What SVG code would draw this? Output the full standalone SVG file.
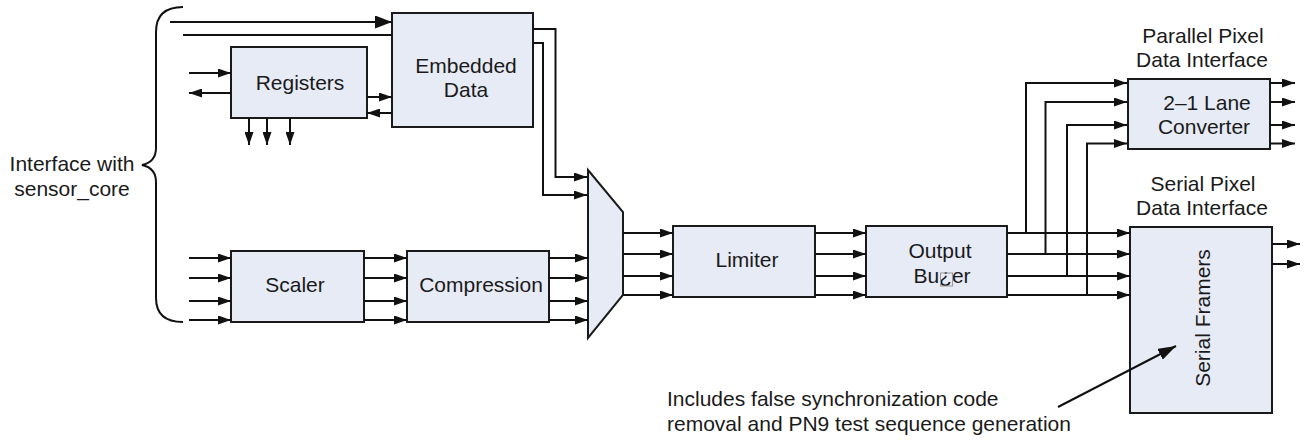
<svg xmlns="http://www.w3.org/2000/svg" width="1305" height="440" viewBox="0 0 1305 440">
<style>
.box{fill:#e7ebf6;stroke:#1a1a1a;stroke-width:2}
.ln{fill:none;stroke:#111;stroke-width:2}
.a{marker-end:url(#ah)}
.t{font-family:"Liberation Sans",Arial,sans-serif;font-size:21px;fill:#1a1a1a;text-anchor:middle}
</style>
<defs>
<marker id="ah" markerUnits="userSpaceOnUse" markerWidth="13" markerHeight="9" refX="13" refY="4.5" orient="auto"><path d="M0,0 L13,4.5 L0,9 z" fill="#111"/></marker>
<marker id="ahb" markerUnits="userSpaceOnUse" markerWidth="17" markerHeight="13" refX="17" refY="6.5" orient="auto"><path d="M0,0 L17,6.5 L0,13 z" fill="#111"/></marker>
<marker id="ahn" markerUnits="userSpaceOnUse" markerWidth="18" markerHeight="12" refX="18" refY="6" orient="auto"><path d="M0,0 L18,6 L0,12 z" fill="#111"/></marker>
</defs>
<rect width="1305" height="440" fill="#fff"/>

<g id="interface">
<path class="ln" d="M183,7 C166,7 156,14 156,32 L156,148 C156,158 151,163 142,165 C151,167 156,172 156,182 L156,298 C156,315 166,322 183,322"/>
<text class="t" x="72" y="171">Interface with</text>
<text class="t" x="72" y="196">sensor_core</text>
</g>

<g id="registers">
<rect class="box" x="231" y="47" width="136" height="71"/>
<text class="t" x="300" y="90">Registers</text>
</g>
<g id="embedded-data">
<rect class="box" x="392" y="13" width="141" height="114"/>
<text class="t" x="466" y="73">Embedded</text>
<text class="t" x="466" y="97">Data</text>
</g>
<g id="scaler">
<rect class="box" x="231" y="251" width="133" height="71"/>
<text class="t" x="295" y="292">Scaler</text>
</g>
<g id="compression">
<rect class="box" x="407" y="251" width="142" height="71"/>
<text class="t" x="481" y="292">Compression</text>
</g>
<g id="mux">
<polygon class="box" points="588,170 623,212 623,295 588,338"/>
</g>
<g id="limiter">
<rect class="box" x="673" y="226" width="142" height="71"/>
<text class="t" x="747" y="267">Limiter</text>
</g>
<g id="output-buffer">
<rect class="box" x="866" y="226" width="141" height="71"/>
<text class="t" x="940" y="258">Output</text>
<text class="t" x="942" y="283">Bu¿er</text>
<rect x="940.5" y="273" width="12" height="13" fill="none" stroke="#999" stroke-width="1"/>
</g>
<g id="lane-converter">
<rect class="box" x="1128" y="79" width="142" height="70"/>
<text class="t" x="1207" y="110">2–1 Lane</text>
<text class="t" x="1204" y="134">Converter</text>
<text class="t" x="1203" y="43">Parallel Pixel</text>
<text class="t" x="1202" y="67">Data Interface</text>
</g>
<g id="serial-framers">
<rect class="box" x="1130" y="227" width="142" height="186"/>
<text class="t" transform="translate(1210,318) rotate(-90)">Serial Framers</text>
<text class="t" x="1203" y="191">Serial Pixel</text>
<text class="t" x="1202" y="215">Data Interface</text>
</g>
<g id="note">
<text class="t" x="667" y="406" style="text-anchor:start">Includes false synchronization code</text>
<text class="t" x="667" y="431" style="text-anchor:start">removal and PN9 test sequence generation</text>
</g>

<g id="connectors">
<line class="ln" x1="170" y1="22" x2="392" y2="22" marker-end="url(#ahb)"/>
<line class="ln" x1="183" y1="35" x2="392" y2="35"/>
<line class="ln a" x1="189" y1="73" x2="231" y2="73"/>
<line class="ln a" x1="231" y1="93" x2="189" y2="93"/>
<line class="ln a" x1="367" y1="97" x2="392" y2="97"/>
<line class="ln a" x1="392" y1="113" x2="367" y2="113"/>
<line class="ln a" x1="249" y1="118" x2="249" y2="145"/>
<line class="ln a" x1="267" y1="118" x2="267" y2="145"/>
<line class="ln a" x1="290" y1="118" x2="290" y2="145"/>
<polyline class="ln a" points="533,29 555.5,29 555.5,177 587,177"/>
<polyline class="ln a" points="533,43 543,43 543,195 587,195"/>
<line class="ln a" x1="189" y1="258" x2="231" y2="258"/>
<line class="ln a" x1="189" y1="278" x2="231" y2="278"/>
<line class="ln a" x1="189" y1="301" x2="231" y2="301"/>
<line class="ln a" x1="189" y1="320" x2="231" y2="320"/>
<line class="ln a" x1="364" y1="258" x2="407" y2="258"/>
<line class="ln a" x1="364" y1="278" x2="407" y2="278"/>
<line class="ln a" x1="364" y1="301" x2="407" y2="301"/>
<line class="ln a" x1="364" y1="320" x2="407" y2="320"/>
<line class="ln a" x1="549" y1="258" x2="588" y2="258"/>
<line class="ln a" x1="549" y1="278" x2="588" y2="278"/>
<line class="ln a" x1="549" y1="301" x2="588" y2="301"/>
<line class="ln a" x1="549" y1="320" x2="588" y2="320"/>
<line class="ln a" x1="623" y1="233" x2="673" y2="233"/>
<line class="ln a" x1="623" y1="254" x2="673" y2="254"/>
<line class="ln a" x1="623" y1="276" x2="673" y2="276"/>
<line class="ln a" x1="623" y1="295" x2="673" y2="295"/>
<line class="ln a" x1="815" y1="233" x2="866" y2="233"/>
<line class="ln a" x1="815" y1="254" x2="866" y2="254"/>
<line class="ln a" x1="815" y1="276" x2="866" y2="276"/>
<line class="ln a" x1="815" y1="295" x2="866" y2="295"/>
<line class="ln a" x1="1007" y1="233" x2="1130" y2="233"/>
<line class="ln a" x1="1007" y1="254" x2="1130" y2="254"/>
<line class="ln a" x1="1007" y1="276" x2="1130" y2="276"/>
<line class="ln a" x1="1007" y1="295" x2="1130" y2="295"/>
<polyline class="ln a" points="1026,233 1026,83 1127,83"/>
<polyline class="ln a" points="1045.5,254 1045.5,102 1127,102"/>
<polyline class="ln a" points="1067,276 1067,125 1127,125"/>
<polyline class="ln a" points="1087,295 1087,143.5 1127,143.5"/>
<line class="ln a" x1="1270" y1="83" x2="1295" y2="83"/>
<line class="ln a" x1="1270" y1="102" x2="1295" y2="102"/>
<line class="ln a" x1="1270" y1="125" x2="1295" y2="125"/>
<line class="ln a" x1="1270" y1="143.5" x2="1295" y2="143.5"/>
<line class="ln a" x1="1272" y1="244" x2="1300" y2="244"/>
<line class="ln a" x1="1272" y1="264" x2="1300" y2="264"/>
<line class="ln" x1="1058" y1="407" x2="1176" y2="346" marker-end="url(#ahn)"/>
</g>
</svg>
